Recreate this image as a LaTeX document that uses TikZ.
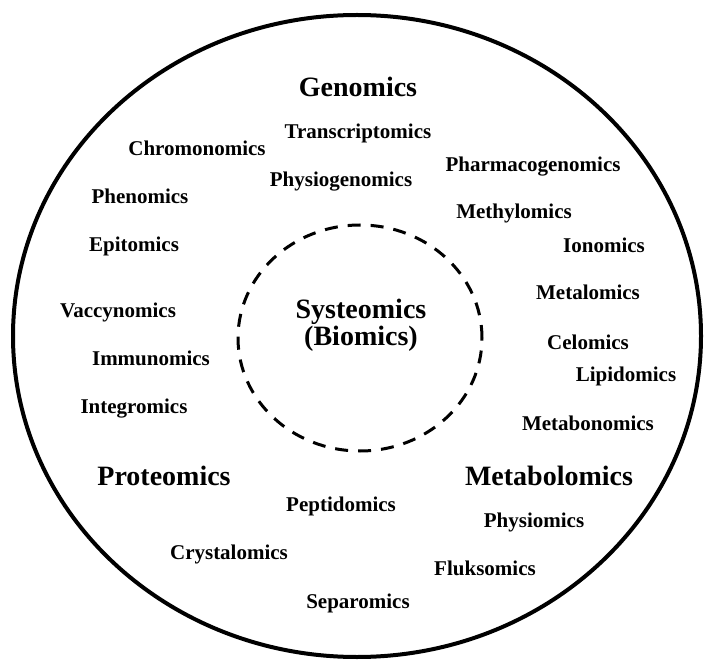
\documentclass[tikz,border=0pt]{standalone}
\usepackage{fontspec}
\setmainfont{Liberation Serif}
\tikzset{
  lab/.style={anchor=base, inner sep=0pt, font=\bfseries\fontsize{21}{23}\selectfont},
  biglab/.style={anchor=base, inner sep=0pt, font=\bfseries\fontsize{28}{27}\selectfont},
  outerring/.style={line width=4pt},
  innerring/.style={line width=3pt, dash pattern=on 13pt off 10pt}
}
\begin{document}
\begin{tikzpicture}[x=1pt,y=-1pt]
\useasboundingbox (0,0) rectangle (704,660);
\draw[outerring] (357,336) ellipse [x radius=344pt, y radius=321pt];
\draw[innerring] (360,338) ellipse [x radius=122pt, y radius=113pt];
% big labels
\node[biglab] (genomics) at (358,97) {Genomics};
\node[biglab] (proteomics) at (164,485) {Proteomics};
\node[biglab] (metabolomics) at (549,485) {Metabolomics};
\node[biglab, align=center] (systeomics) at (361,345) {Systeomics\\(Biomics)};
% small labels
\node[lab] (transcriptomics) at (358,139) {Transcriptomics};
\node[lab] (chromonomics) at (197,156) {Chromonomics};
\node[lab] (pharmacogenomics) at (533,172) {Pharmacogenomics};
\node[lab] (physiogenomics) at (341,187) {Physiogenomics};
\node[lab] (phenomics) at (140,204) {Phenomics};
\node[lab] (methylomics) at (514,219) {Methylomics};
\node[lab] (epitomics) at (134,252) {Epitomics};
\node[lab] (ionomics) at (604,253) {Ionomics};
\node[lab] (metalomics) at (588,300) {Metalomics};
\node[lab] (vaccynomics) at (118,317) {Vaccynomics};
\node[lab] (celomics) at (588,349) {Celomics};
\node[lab] (immunomics) at (151,365) {Immunomics};
\node[lab] (lipidomics) at (626,381) {Lipidomics};
\node[lab] (integromics) at (134,413) {Integromics};
\node[lab] (metabonomics) at (588,430) {Metabonomics};
\node[lab] (peptidomics) at (341,511) {Peptidomics};
\node[lab] (physiomics) at (534,527) {Physiomics};
\node[lab] (crystalomics) at (229,559) {Crystalomics};
\node[lab] (fluksomics) at (485,575) {Fluksomics};
\node[lab] (separomics) at (358,608) {Separomics};
\end{tikzpicture}
\end{document}
